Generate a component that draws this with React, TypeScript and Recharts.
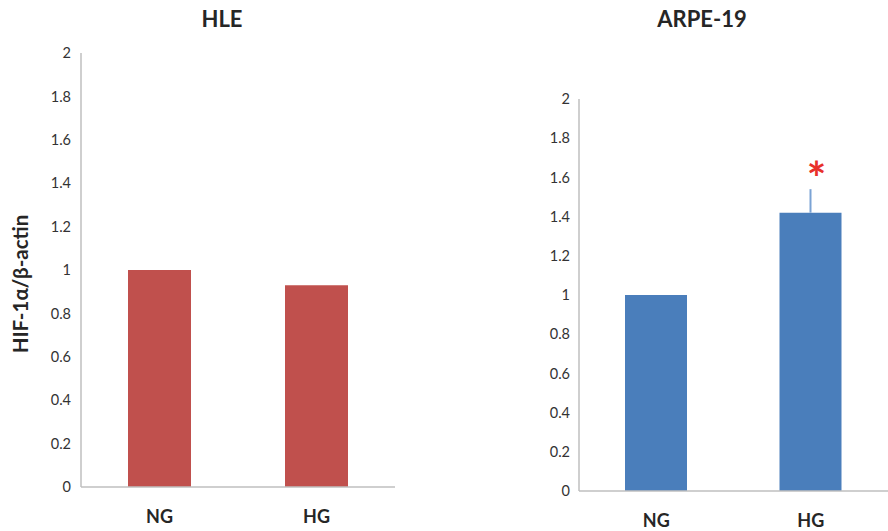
import { Bar, BarChart, ErrorBar, LabelList, XAxis, YAxis } from 'recharts';

const categories = ['NG', 'HG'];
const hleValues = [1.0, 0.93];
const arpeValues = [1.0, 1.42];
const arpeUpperErrors = [0, 0.12];
const arpeMarks = ['', '*'];
const yTicks = [0, 0.2, 0.4, 0.6, 0.8, 1, 1.2, 1.4, 1.6, 1.8, 2];

const FONT = 'Lato, "Open Sans", sans-serif';
const AXIS = '#bfbfbf';

const hleData = categories.map((name, i) => ({ name, value: hleValues[i] }));
const arpeData = categories.map((name, i) => ({
  name,
  value: arpeValues[i],
  err: [0, arpeUpperErrors[i]],
  mark: arpeMarks[i],
}));

const yTick = { fill: '#333333', fontSize: 14.5, fontFamily: FONT };
const xTick = { fill: '#262626', fontSize: 18, fontWeight: 700, fontFamily: FONT };

function Star(props: any) {
  const { x, y, width, value } = props;
  if (!value) return null;
  return (
    <text
      x={x + width / 2 + 6}
      y={y - 18}
      textAnchor="middle"
      fill="#e8302a"
      fontSize={46}
      fontWeight={700}
      fontFamily={FONT}
    >
      {value}
    </text>
  );
}

export default function App() {
  return (
    <div style={{ position: 'absolute', left: 0, top: 0, width: 888, height: 531, background: '#fff' }}>
      <div style={{ position: 'absolute', left: 0, top: 0 }}>
        <BarChart width={400} height={531} data={hleData} margin={{ top: 53, right: 5, bottom: 0, left: 0 }}>
          <XAxis
            dataKey="name"
            height={44}
            tickLine={false}
            tickMargin={17}
            stroke={AXIS}
            strokeWidth={1.5}
            tick={xTick}
          />
          <YAxis
            width={81}
            domain={[0, 2]}
            ticks={yTicks}
            tickLine={false}
            tickMargin={4}
            stroke={AXIS}
            strokeWidth={1.5}
            tick={yTick}
            interval={0}
          />
          <Bar dataKey="value" fill="#c0504d" barSize={63} isAnimationActive={false} />
        </BarChart>
      </div>
      <div style={{ position: 'absolute', left: 498, top: 0 }}>
        <BarChart width={390} height={531} data={arpeData} margin={{ top: 99, right: 0, bottom: 0, left: 0 }}>
          <XAxis
            dataKey="name"
            height={40}
            tickLine={false}
            tickMargin={17}
            stroke={AXIS}
            strokeWidth={1.5}
            tick={xTick}
          />
          <YAxis
            width={81}
            domain={[0, 2]}
            ticks={yTicks}
            tickLine={false}
            tickMargin={3}
            stroke={AXIS}
            strokeWidth={1.5}
            tick={yTick}
            interval={0}
          />
          <Bar dataKey="value" fill="#4a7ebb" barSize={62} isAnimationActive={false}>
            <ErrorBar dataKey="err" width={0} stroke="#7ba3d4" strokeWidth={2} direction="y" />
            <LabelList dataKey="mark" content={<Star />} />
          </Bar>
        </BarChart>
      </div>
      <svg width={888} height={531} style={{ position: 'absolute', left: 0, top: 0, pointerEvents: 'none' }}>
        <text x={222} y={27} textAnchor="middle" fontSize={22} fontWeight={700} fill="#262626" fontFamily={FONT}>
          HLE
        </text>
        <text x={702} y={27} textAnchor="middle" fontSize={22} fontWeight={700} fill="#262626" fontFamily={FONT}>
          ARPE-19
        </text>
        <text
          x={28}
          y={284}
          transform="rotate(-90 28 284)"
          textAnchor="middle"
          fontSize={20.5}
          fontWeight={700}
          fill="#262626"
          fontFamily={FONT}
        >
          HIF-1α/β-actin
        </text>
      </svg>
    </div>
  );
}
